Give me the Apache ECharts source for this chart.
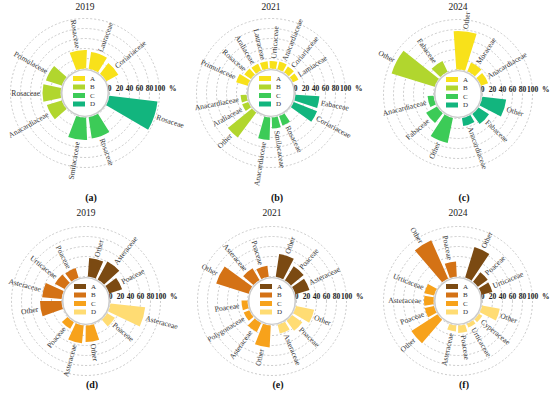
<!DOCTYPE html>
<html><head><meta charset="utf-8">
<script src="https://cdn.jsdelivr.net/npm/echarts@6/dist/echarts.min.js"></script>
<style>html,body{margin:0;padding:0;background:#fff}#c{width:550px;height:399px}</style>
</head><body><div id="c"></div>
<script>
// ---------- DATA ----------
const YEARS = ['2019', '2021', '2024', '2019', '2021', '2024'];
const LETTERS = ['(a)', '(b)', '(c)', '(d)', '(e)', '(f)'];
const GROUPS = ['A', 'B', 'C', 'D'];
const RADIUS_TICKS = [0, 20, 40, 60, 80, 100];

// (a) 2019
const a19_A_fam = ['Coriariaceae', 'Lauraceae', 'Rosaceae'];
const a19_A_val = [27, 34, 37];
const a19_B_fam = ['Primulaceae', 'Rosaceae', 'Anacardiaceae'];
const a19_B_val = [33, 36, 31];
const a19_C_fam = ['Smilacaceae', 'Rosaceae'];
const a19_C_val = [45, 43];
const a19_D_fam = ['Rosaceae'];
const a19_D_val = [97];

// (b) 2021
const a21_A_fam = ['Lamiaceae', 'Coriariaceae', 'Anacardiaceae', 'Urticaceae', 'Lauraceae', 'Araliaceae', 'Rosaceae', 'Primulaceae'];
const a21_A_val = [12, 14, 16, 15, 15, 15, 16, 24];
const a21_B_fam = ['Anacardiaceae', 'Araliaceae', 'Other'];
const a21_B_val = [12, 13, 62];
const a21_C_fam = ['Anacardiaceae', 'Smilacaceae', 'Rosaceae'];
const a21_C_val = [45, 22, 20];
const a21_D_fam = ['Coriariaceae', 'Fabaceae'];
const a21_D_val = [50, 48];

// (c) 2024
const a24_A_fam = ['Anacardiaceae', 'Moraceae', 'Other'];
const a24_A_val = [15, 19, 77];
const a24_B_fam = ['Fabaceae', 'Other'];
const a24_B_val = [24, 90];
const a24_C_fam = ['Anacardiaceae', 'Fabaceae', 'Other'];
const a24_C_val = [12, 25, 51];
const a24_D_fam = ['Anacardiaceae', 'Fabaceae', 'Other'];
const a24_D_val = [16, 25, 48];

// (d) 2019
const h19_A_fam = ['Poaceae', 'Asteraceae', 'Other'];
const h19_A_val = [27, 41, 37];
const h19_B_fam = ['Poaceae', 'Urticaceae', 'Asteraceae', 'Other'];
const h19_B_val = [20, 22, 39, 43];
const h19_C_fam = ['Poaceae', 'Asteraceae', 'Other'];
const h19_C_val = [15, 36, 33];
const h19_D_fam = ['Poaceae', 'Asteraceae'];
const h19_D_val = [18, 70];

// (e) 2021
const h21_A_fam = ['Asteraceae', 'Poaceae', 'Other'];
const h21_A_val = [29, 33, 46];
const h21_B_fam = ['Poaceae', 'Asteraceae', 'Other'];
const h21_B_val = [22, 27, 68];
const h21_C_fam = ['Poaceae', 'Polygonaceae', 'Asteraceae', 'Other'];
const h21_C_val = [12, 12, 20, 44];
const h21_D_fam = ['Asteraceae', 'Poaceae', 'Other'];
const h21_D_val = [18, 25, 37];

// (f) 2024
const h24_A_fam = ['Urticaceae', 'Poaceae', 'Other'];
const h24_A_val = [22, 24, 64];
const h24_B_fam = ['Poaceae', 'Other'];
const h24_B_val = [30, 84];
const h24_C_fam = ['Urticaceae', 'Asteraceae', 'Poaceae', 'Other'];
const h24_C_val = [20, 19, 19, 62];
const h24_D_fam = ['Asteraceae', 'Poaceae', 'Urticaceae', 'Cyperaceae', 'Other'];
const h24_D_val = [12, 15, 8, 8, 36];

// ---------- STYLE / LAYOUT ----------
const SERIF = '"Liberation Serif","Times New Roman",serif';
const GREEN = ['#F8E11A', '#B1D62E', '#3CCB57', '#12B57E'];
const BROWN = ['#7B4A12', '#D47215', '#F7A21B', '#FFDC73'];
const R0 = 24.5, R1 = 74.5;
const BAR_FRAC = 0.8;

// a0: angular position (in bar slots) of the first bar; gB: slot distance between groups; gE: distance across the east gap
const panels = [
  { g: [[a19_A_fam, a19_A_val], [a19_B_fam, a19_B_val], [a19_C_fam, a19_C_val], [a19_D_fam, a19_D_val]], col: GREEN, c: [85, 93], gB: 1.75, gE: 2.0, a0: 1.375, ty: 7, ly: 197 },
  { g: [[a21_A_fam, a21_A_val], [a21_B_fam, a21_B_val], [a21_C_fam, a21_C_val], [a21_D_fam, a21_D_val]], col: GREEN, c: [271, 93], gB: 2.0, gE: 2.5, a0: 1.875, ty: 7, ly: 197 },
  { g: [[a24_A_fam, a24_A_val], [a24_B_fam, a24_B_val], [a24_C_fam, a24_C_val], [a24_D_fam, a24_D_val]], col: GREEN, c: [458, 94], gB: 1.6, gE: 1.8, a0: 1.15, ty: 7, ly: 197 },
  { g: [[h19_A_fam, h19_A_val], [h19_B_fam, h19_B_val], [h19_C_fam, h19_C_val], [h19_D_fam, h19_D_val]], col: BROWN, c: [86, 301], gB: 1.7, gE: 1.8, a0: 1.15, ty: 213, ly: 384 },
  { g: [[h21_A_fam, h21_A_val], [h21_B_fam, h21_B_val], [h21_C_fam, h21_C_val], [h21_D_fam, h21_D_val]], col: BROWN, c: [272, 301], gB: 1.5, gE: 2.0, a0: 1.1, ty: 213, ly: 384 },
  { g: [[h24_A_fam, h24_A_val], [h24_B_fam, h24_B_val], [h24_C_fam, h24_C_val], [h24_D_fam, h24_D_val]], col: BROWN, c: [458, 301], gB: 1.75, gE: 2.0, a0: 1.1, ty: 213, ly: 384 }
];

const option = {
  animation: false,
  backgroundColor: '#fff',
  polar: [], angleAxis: [], radiusAxis: [], series: [], legend: [], graphic: []
};

panels.forEach((P, p) => {
  const cx = P.c[0], cy = P.c[1];
  let pos = P.a0;
  const items = [];
  P.g.forEach((grp, gi) => {
    grp[0].forEach((_, k) => {
      if (k > 0) pos += 1;
      items.push({ gi: gi, k: k, pos: pos });
    });
    if (gi < 3) pos += P.gB;
  });
  const T = pos + P.gE - P.a0;
  const barDeg = BAR_FRAC * 360 / T;

  option.polar.push({ center: [cx, cy], radius: [R0, R1] });
  option.angleAxis.push({
    polarIndex: p, type: 'value', min: 0, max: T, startAngle: 0, clockwise: false,
    axisLine: { show: false }, axisTick: { show: false }, axisLabel: { show: false }, splitLine: { show: false }
  });
  option.radiusAxis.push({
    polarIndex: p, type: 'value', min: RADIUS_TICKS[0], max: RADIUS_TICKS[RADIUS_TICKS.length - 1], interval: 20,
    axisLine: { show: false }, axisTick: { show: false },
    axisLabel: { margin: 1, fontFamily: SERIF, fontSize: 7.5, fontWeight: 'bold', color: '#222' },
    splitLine: { show: true, lineStyle: { color: '#bdbdbd', type: [2, 2], width: 0.8 } },
    name: '%', nameLocation: 'end', nameGap: 5,
    nameTextStyle: { fontFamily: SERIF, fontSize: 7.5, fontWeight: 'bold', color: '#222', verticalAlign: 'bottom', padding: [0, 0, 1, 0] }
  });

  const names = [];
  GROUPS.forEach((gname, gi) => {
    const data = items.map(it => [it.gi === gi ? P.g[gi][1][it.k] : '-', it.pos]);
    const sname = gname + '|' + p;
    names.push(sname);
    option.series.push({
      type: 'bar', name: sname, coordinateSystem: 'polar', polarIndex: p, stack: 's' + p,
      data: data, barWidth: barDeg, itemStyle: { color: P.col[gi] }, z: 2, silent: true
    });
  });

  const labData = items.map(it => [P.g[it.gi][1][it.k], it.pos]);
  const labText = items.map(it => P.g[it.gi][0][it.k]);
  option.series.push({
    type: 'custom', coordinateSystem: 'polar', polarIndex: p, data: labData, silent: true, z: 4,
    renderItem: function (params, api) {
      const cs = params.coordSys;
      const pt = api.coord([api.value(0), api.value(1)]);
      const dx = pt[0] - cs.cx, dy = pt[1] - cs.cy;
      const ang = Math.atan2(-dy, dx);
      const d = Math.sqrt(dx * dx + dy * dy) + 2.5;
      const x = cs.cx + d * Math.cos(ang), y = cs.cy - d * Math.sin(ang);
      const right = Math.cos(ang) >= -0.01;
      return {
        type: 'text', x: x, y: y, rotation: right ? ang : ang - Math.PI,
        style: {
          text: labText[params.dataIndex], fontFamily: SERIF, fontSize: 7.6, fill: '#333',
          align: right ? 'left' : 'right', textAlign: right ? 'left' : 'right',
          verticalAlign: 'middle', textVerticalAlign: 'middle'
        }
      };
    }
  });

  option.legend.push({
    data: names, formatter: function (n) { return n.split('|')[0]; },
    orient: 'vertical', left: cx - 12, top: cy - 18, itemWidth: 12, itemHeight: 5, itemGap: 1.5,
    icon: 'rect', padding: 0, selectedMode: false, z: 10,
    textStyle: { fontFamily: SERIF, fontSize: 7, color: '#333' }
  });

  option.graphic.push({
    type: 'circle', shape: { cx: cx, cy: cy, r: R0 - 1.2 }, silent: true, z: 3,
    style: { fill: '#fff', stroke: '#cccccc', lineWidth: 1.6 }
  });
  option.graphic.push({
    type: 'text', x: cx, y: P.ty, silent: true, z: 5,
    style: { text: YEARS[p], fontFamily: SERIF, fontSize: 9.5, fill: '#222', align: 'center', textAlign: 'center', verticalAlign: 'middle', textVerticalAlign: 'middle' }
  });
  option.graphic.push({
    type: 'text', x: cx + 6, y: P.ly, silent: true, z: 5,
    style: { text: LETTERS[p], fontFamily: SERIF, fontSize: 10, fontWeight: 'bold', fill: '#111', align: 'center', textAlign: 'center', verticalAlign: 'middle', textVerticalAlign: 'middle' }
  });
});

const chart = echarts.init(document.getElementById('c'), null, { renderer: 'svg', width: 550, height: 399 });
chart.setOption(option);
</script>
</body></html>
